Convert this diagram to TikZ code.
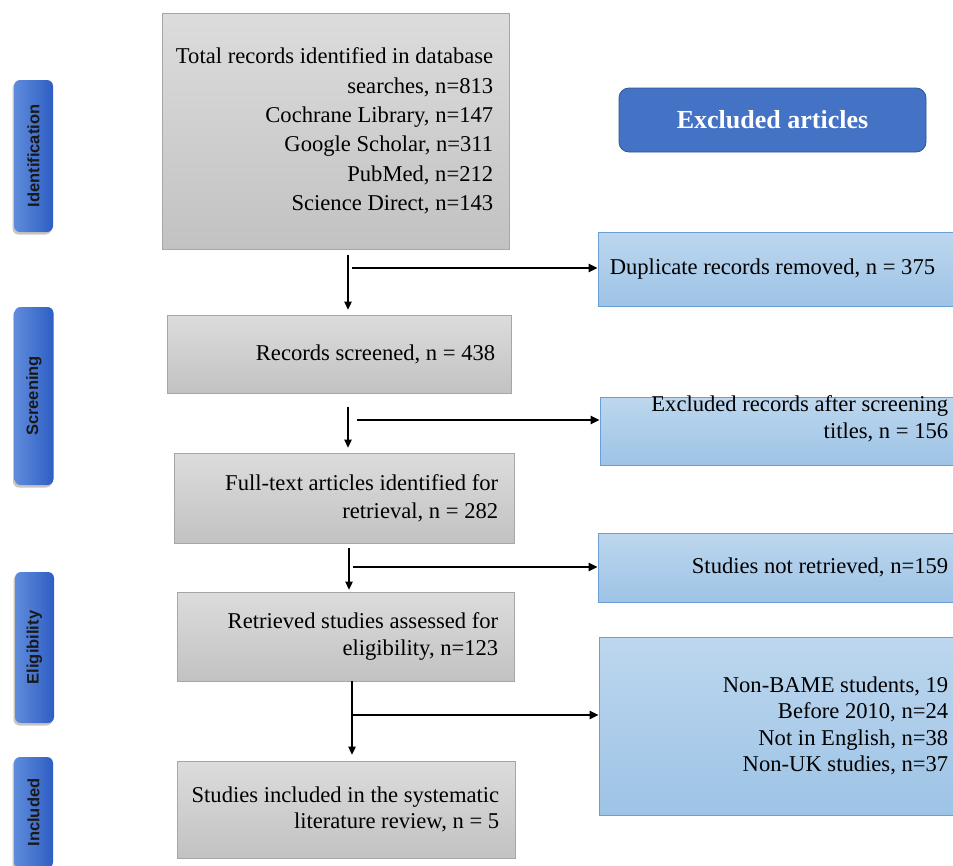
\documentclass[tikz,border=0pt]{standalone}
\usepackage{fontspec}
\setmainfont{Liberation Serif}
\newfontfamily\phasefont{Liberation Sans}
\usetikzlibrary{arrows.meta,shadows}
\definecolor{grayTop}{HTML}{DCDCDC}
\definecolor{grayBot}{HTML}{C2C2C2}
\definecolor{grayEdge}{HTML}{A6A6A6}
\definecolor{blueTop}{HTML}{BDD7EE}
\definecolor{blueBot}{HTML}{9DC3E6}
\definecolor{blueEdge}{HTML}{6A9FD6}
\definecolor{hdrFill}{HTML}{4472C4}
\definecolor{hdrEdge}{HTML}{2F5597}
\definecolor{phaseL}{HTML}{5F8CDB}
\definecolor{phaseR}{HTML}{2E5EC4}
\definecolor{shadowC}{HTML}{8C8070}
\begin{document}
\begin{tikzpicture}[x=1pt,y=-1pt,
  graybox/.style={draw=grayEdge, line width=0.8pt, top color=grayTop, bottom color=grayBot,
    inner sep=0pt},
  bluebox/.style={draw=blueEdge, line width=0.8pt, top color=blueTop, bottom color=blueBot,
    inner sep=0pt},
  boxtext/.style={inner sep=0pt, align=right, anchor=east},
  phase/.style={rounded corners=6pt, left color=phaseL, right color=phaseR, draw=none,
    inner sep=0pt, minimum width=39pt,
    drop shadow={shadow xshift=-1.5pt, shadow yshift=-2.5pt, opacity=.45, fill=shadowC},
    font=\phasefont\bfseries\fontsize{16.5}{16.5}\selectfont, text=black!90},
  header/.style={rounded corners=10pt, fill=hdrFill, draw=hdrEdge, line width=0.8pt,
    text=white, font=\bfseries\fontsize{26}{26}\selectfont},
  varr/.style={-{Triangle[length=8pt,width=7.5pt]}, line width=1.3pt},
  harr/.style={-{Triangle[length=9pt,width=8pt]}, line width=2.2pt}
]
\useasboundingbox (0,0) rectangle (953,865);
\fill[white] (0,0) rectangle (953,865);
\clip (0,0) rectangle (953,865);

% phase labels
\node[phase, minimum height=152pt] (pid) at (33.5,156) {\rotatebox{90}{Identification}};
\node[phase, minimum height=178pt] (psc) at (34,396) {\rotatebox{90}{Screening}};
\node[phase, minimum height=151pt] (pel) at (34.5,647.5) {\rotatebox{90}{Eligibility}};
\node[phase, minimum height=111pt] (pin) at (33.5,812.5) {\rotatebox{90}{Included}};

% main flow boxes
\node[graybox, minimum width=347pt, minimum height=236pt] (b1) at (335.5,131) {};
\node[boxtext, font=\fontsize{22.6}{29.4}\selectfont] (t1) at ([xshift=-16pt]b1.east)
  {Total records identified in database\\ searches, n=813\\ Cochrane Library, n=147\\ Google Scholar, n=311\\ PubMed, n=212\\ Science Direct, n=143};
\node[graybox, minimum width=344pt, minimum height=78pt] (b2) at (339,354) {};
\node[boxtext, font=\fontsize{22.6}{27}\selectfont] (t2) at ([xshift=-16pt]b2.east)
  {Records screened, n = 438};
\node[graybox, minimum width=340pt, minimum height=90pt] (b3) at (344,498) {};
\node[boxtext, font=\fontsize{22.6}{28}\selectfont] (t3) at ([xshift=-16pt]b3.east)
  {Full-text articles identified for\\ retrieval, n = 282};
\node[graybox, minimum width=337pt, minimum height=89pt] (b4) at (345.5,636.5) {};
\node[boxtext, font=\fontsize{22.6}{27}\selectfont] (t4) at ([xshift=-16pt]b4.east)
  {Retrieved studies assessed for\\ eligibility, n=123};
\node[graybox, minimum width=338pt, minimum height=97pt] (b5) at (346,809.5) {};
\node[boxtext, font=\fontsize{22.6}{26.5}\selectfont] (t5) at ([xshift=-16pt]b5.east)
  {Studies included in the systematic\\ literature review, n = 5};

% excluded column
\node[header, minimum width=307pt, minimum height=64pt] (hdr) at (772.5,120) {Excluded articles};
\node[bluebox, minimum width=366pt, minimum height=74pt] (dup) at (781,269) {};
\node[inner sep=0pt, anchor=west, font=\fontsize{22.6}{27}\selectfont] (t6) at ([xshift=12pt]dup.west)
  {Duplicate records removed, n = 375};
\node[bluebox, minimum width=364pt, minimum height=68pt] (exrec) at (782,431) {};
\node[boxtext, font=\fontsize{22.6}{27}\selectfont] (t7) at ([xshift=-16pt]exrec.east)
  {Excluded records after screening\\ titles, n = 156\\ \mbox{}};
\node[bluebox, minimum width=366pt, minimum height=69pt] (notr) at (781,567.5) {};
\node[boxtext, font=\fontsize{22.6}{27}\selectfont] (t8) at ([xshift=-16pt]notr.east)
  {Studies not retrieved, n=159};
\node[bluebox, minimum width=365pt, minimum height=178pt] (big) at (781.5,726) {};
\node[boxtext, font=\fontsize{22.6}{26.4}\selectfont] (t9) at ([xshift=-16pt]big.east)
  {Non-BAME students, 19\\ Before 2010, n=24\\ Not in English, n=38\\ Non-UK studies, n=37};

% connectors
\coordinate (v1) at (348,0);
\coordinate (v2) at (348,0);
\coordinate (v3) at (349,0);
\coordinate (v4) at (352,0);
\coordinate (h1) at (352,268);
\coordinate (h2) at (357,420);
\coordinate (h3) at (353,567);
\coordinate (h4) at (352,715);

\draw[varr, shorten <=6pt, shorten >=5pt] (b1.south -| v1) -- (b2.north -| v1);
\draw[harr] (h1) -- (dup.west |- h1);
\draw[varr, shorten <=14pt, shorten >=5pt] (b2.south -| v2) -- (b3.north -| v2);
\draw[harr] (h2) -- (exrec.west |- h2);
\draw[varr, shorten <=5pt, shorten >=2pt] (b3.south -| v3) -- (b4.north -| v3);
\draw[harr] (h3) -- (notr.west |- h3);
\draw[varr, shorten >=6pt] (b4.south -| v4) -- (b5.north -| v4);
\draw[harr] (h4) -- (big.west |- h4);
\end{tikzpicture}
\end{document}
